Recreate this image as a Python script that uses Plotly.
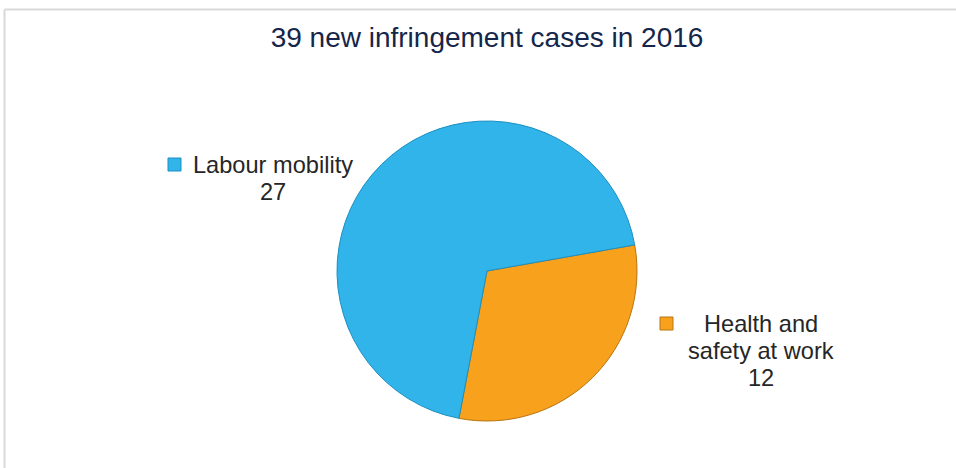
import plotly.graph_objects as go

# Data
labels = ["Health and safety at work", "Labour mobility"]
values = [12, 27]
label_lines = [["Health and", "safety at work"], ["Labour mobility"]]
title_text = "39 new infringement cases in 2016"

colors = ["#F7A11C", "#30B4E9"]
edge_colors = ["#B97410", "#1D8FC0"]

W, H = 956, 468

def px(x):
    return x / W

def py(y):
    return 1 - y / H

fig = go.Figure()
fig.add_trace(go.Pie(
    labels=labels,
    values=values,
    sort=False,
    direction="clockwise",
    rotation=80,
    marker=dict(colors=colors, line=dict(color=edge_colors, width=1)),
    textinfo="none",
    hoverinfo="label+value",
    showlegend=False,
    domain=dict(x=[px(337), px(637)], y=[py(421), py(121)]),
))

# label blocks: (marker square left/top, text centre x, first line centre y)
label_pos = {
    "Labour mobility": dict(sq=(168, 158), cx=273, y0=165),
    "Health and safety at work": dict(sq=(660, 317), cx=761, y0=324),
}
line_gap = 27

annotations = []
shapes = []
for lab, val, lines, col, ecol in zip(labels, values, label_lines, colors, edge_colors):
    p = label_pos[lab]
    all_lines = lines + [str(val)]
    for i, t in enumerate(all_lines):
        annotations.append(dict(
            x=px(p["cx"]), y=py(p["y0"] + i * line_gap),
            xref="paper", yref="paper",
            text=t, showarrow=False,
            xanchor="center", yanchor="middle",
            font=dict(family="Liberation Sans, Arial", size=23.6, color="#262626"),
        ))
    sx, sy = p["sq"]
    shapes.append(dict(
        type="rect", xref="paper", yref="paper",
        x0=px(sx), x1=px(sx + 13), y0=py(sy + 13), y1=py(sy),
        fillcolor=col, line=dict(color=ecol, width=1),
    ))

# chart frame (top and left edges visible)
shapes.append(dict(type="line", xref="paper", yref="paper",
                   x0=px(4.5), x1=1.0, y0=py(9.5), y1=py(9.5),
                   line=dict(color="#D9D9D9", width=2)))
shapes.append(dict(type="line", xref="paper", yref="paper",
                   x0=px(4.5), x1=px(4.5), y0=py(9.5), y1=0,
                   line=dict(color="#D9D9D9", width=2)))

fig.update_layout(
    width=W, height=H,
    margin=dict(l=0, r=0, t=0, b=0),
    paper_bgcolor="white",
    plot_bgcolor="white",
    title=dict(
        text=title_text,
        x=px(487), xanchor="center",
        y=py(37), yanchor="middle",
        font=dict(family="Liberation Sans, Arial", size=28, color="#15264A"),
    ),
    annotations=annotations,
    shapes=shapes,
)

fig.write_html(
    "out.html",
    config=dict(displayModeBar=False),
    post_script="document.body.style.margin='0';document.body.style.overflow='hidden';",
)
